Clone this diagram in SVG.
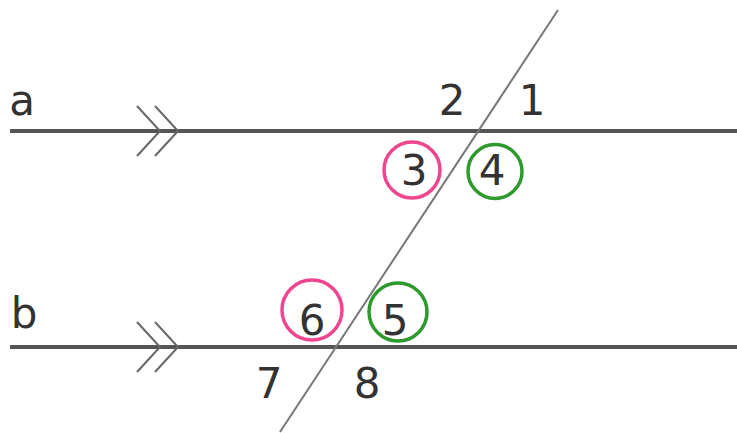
<svg xmlns="http://www.w3.org/2000/svg" width="737" height="433" viewBox="0 0 737 433">
<style>
.par{stroke:#555;stroke-width:4;fill:none}
.tr{stroke:#777;stroke-width:2;fill:none}
.chev{stroke:#666;stroke-width:2;fill:none}
.pink{stroke:#f0468f;stroke-width:3.5;fill:none}
.green{stroke:#2e9a2e;stroke-width:3.5;fill:none}
text{font-family:"DejaVu Sans",sans-serif;font-size:42px;fill:#333;text-anchor:middle}
</style>
<rect width="737" height="433" fill="#fff"/>
<g id="connectors">
<line class="par" x1="10" y1="131" x2="737" y2="131"/>
<line class="par" x1="10" y1="347" x2="737" y2="347"/>
<line class="tr" x1="558" y1="10" x2="280" y2="432"/>
<polyline class="chev" points="137,106 160,131 137,156"/>
<polyline class="chev" points="155,106 178,131 155,156"/>
<polyline class="chev" points="137,322 160,347 137,372"/>
<polyline class="chev" points="155,322 178,347 155,372"/>
</g>
<g id="label-a"><text x="22" y="115">a</text></g>
<g id="label-b"><text x="24" y="328">b</text></g>
<g id="angle1"><text x="532" y="115">1</text></g>
<g id="angle2"><text x="452" y="115">2</text></g>
<g id="angle3"><circle class="pink" cx="412" cy="170" r="28"/><text x="414" y="185">3</text></g>
<g id="angle4"><circle class="green" cx="495" cy="171.5" r="27"/><text x="492" y="185">4</text></g>
<g id="angle5"><circle class="green" cx="398" cy="312" r="29"/><text x="395" y="335">5</text></g>
<g id="angle6"><circle class="pink" cx="312" cy="310" r="30"/><text x="312" y="335">6</text></g>
<g id="angle7"><text x="269" y="398">7</text></g>
<g id="angle8"><text x="367" y="398">8</text></g>
</svg>
